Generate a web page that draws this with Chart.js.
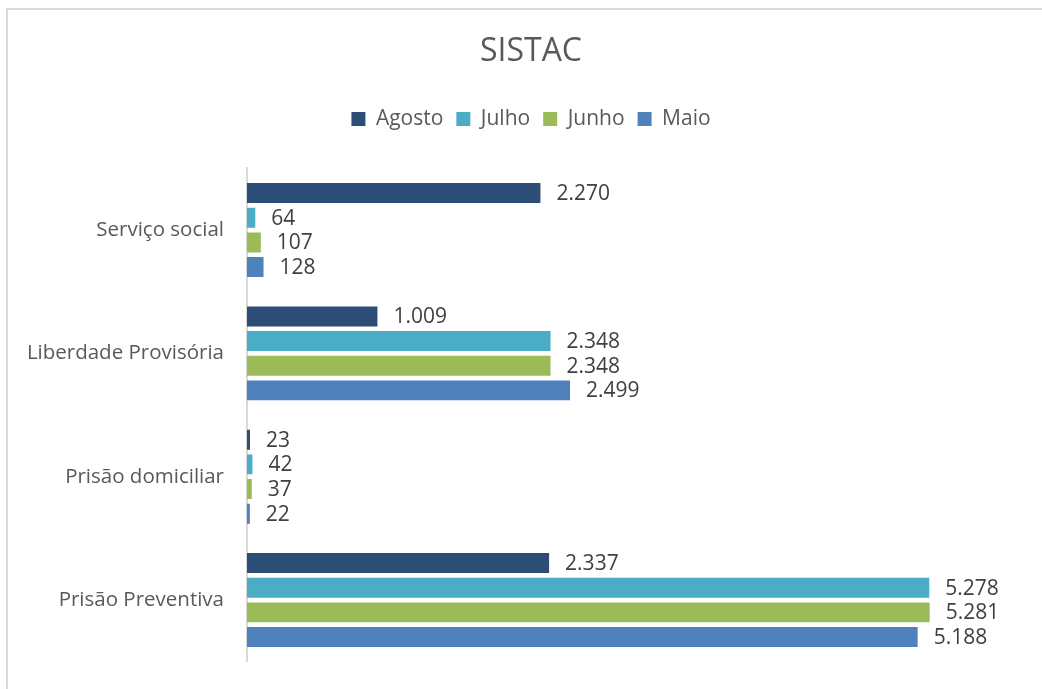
<!DOCTYPE html>
<html>
<head>
<meta charset="utf-8">
<script src="https://cdn.jsdelivr.net/npm/chart.js@4"></script>
<style>
  html, body { margin: 0; padding: 0; background: #fff; }
  #wrap { width: 1042px; height: 689px; position: relative; }
</style>
</head>
<body>
<div id="wrap"><canvas id="myChart"></canvas></div>
<script>
const categories = ['Serviço social', 'Liberdade Provisória', 'Prisão domiciliar', 'Prisão Preventiva'];
const agosto = [2270, 1009, 23, 2337];
const julho = [64, 2348, 42, 5278];
const junho = [107, 2348, 37, 5281];
const maio = [128, 2499, 22, 5188];

const fmt = v => String(v).replace(/\B(?=(\d{3})+(?!\d))/g, '.');

// value labels at the end of each bar
const barLabels = {
    id: 'barLabels',
    afterDatasetsDraw(chart) {
        const ctx = chart.ctx;
        ctx.save();
        ctx.font = '21px "Open Sans"';
        ctx.fillStyle = '#404040';
        ctx.textBaseline = 'middle';
        chart.data.datasets.forEach((ds, i) => {
            chart.getDatasetMeta(i).data.forEach((bar, j) => {
                ctx.fillText(fmt(ds.data[j]), bar.x + 16, bar.y + 1);
            });
        });
        ctx.restore();
    }
};

// light frame around the whole chart
const frame = {
    id: 'frame',
    beforeDraw(chart) {
        const ctx = chart.ctx;
        ctx.save();
        ctx.strokeStyle = '#d9d9d9';
        ctx.lineWidth = 2;
        ctx.strokeRect(7, 9, chart.width + 10, chart.height + 10);
        ctx.restore();
    }
};

// extra room under the legend
const legendGap = {
    id: 'legendGap',
    beforeInit(chart) {
        const fit = chart.legend.fit;
        chart.legend.fit = function () {
            fit.bind(chart.legend)();
            this.height += 29;
        };
    }
};

const ctx = document.getElementById('myChart').getContext('2d');
new Chart(ctx, {
    type: 'bar',
    data: {
        labels: categories,
        datasets: [
            { label: 'Agosto', data: agosto, backgroundColor: '#2C4D75' },
            { label: 'Julho', data: julho, backgroundColor: '#4BACC6' },
            { label: 'Junho', data: junho, backgroundColor: '#9BBB59' },
            { label: 'Maio', data: maio, backgroundColor: '#4F81BD' }
        ]
    },
    options: {
        indexAxis: 'y',
        responsive: true,
        maintainAspectRatio: false,
        animation: false,
        layout: { padding: { left: 20, right: 0, top: 0, bottom: 15 } },
        datasets: {
            bar: { categoryPercentage: 0.8, barPercentage: 0.81 }
        },
        scales: {
            x: {
                display: false,
                min: 0,
                max: 6150
            },
            y: {
                grid: { display: false },
                border: { display: true, color: '#d9d9d9', width: 2 },
                ticks: {
                    color: '#595959',
                    font: { family: 'Open Sans', size: 20.5 },
                    padding: 15
                },
                afterFit(scale) { scale.width = 227; }
            }
        },
        plugins: {
            title: {
                display: true,
                text: 'SISTAC',
                color: '#595959',
                font: { family: 'Open Sans', size: 32, weight: 'normal' },
                padding: { top: 33, bottom: 24 }
            },
            legend: {
                position: 'top',
                labels: {
                    color: '#595959',
                    font: { family: 'Open Sans', size: 21 },
                    boxWidth: 14,
                    boxHeight: 14,
                    padding: 13
                }
            },
            tooltip: { enabled: false }
        }
    },
    plugins: [frame, barLabels, legendGap]
});
</script>
</body>
</html>
